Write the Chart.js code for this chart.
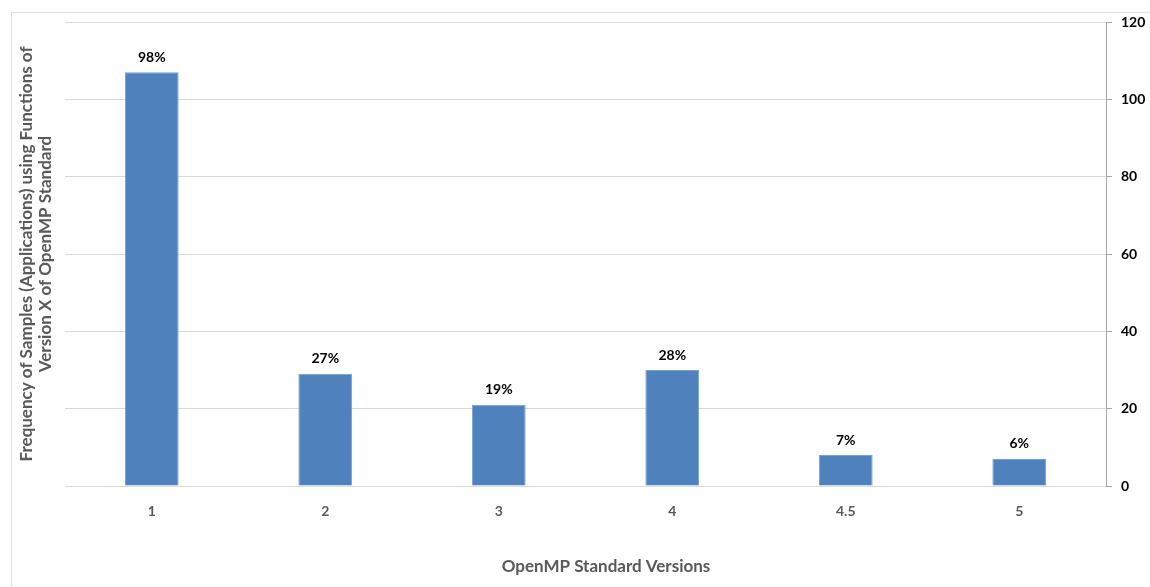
<!DOCTYPE html>
<html>
<head>
<meta charset="utf-8">
<script src="https://cdn.jsdelivr.net/npm/chart.js@4"></script>
<style>
  html, body { margin: 0; padding: 0; background: #ffffff; }
  #wrap { width: 1150px; height: 587px; position: relative; }
</style>
</head>
<body>
<div id="wrap"><canvas id="c" width="1150" height="587"></canvas></div>
<script>
const categories = ["1", "2", "3", "4", "4.5", "5"];
const frequencies = [107, 29, 21, 30, 8, 7];
const percentLabels = ["98%", "27%", "19%", "28%", "7%", "6%"];
const yTicks = [0, 20, 40, 60, 80, 100, 120];
const xTitle = "OpenMP Standard Versions";
const yTitle = ["Frequency of Samples (Applications) using Functions of", "Version X of OpenMP Standard"];

const FONT = "Lato, 'Open Sans', sans-serif";

const frame = {
  id: 'frame',
  beforeDraw(chart) {
    const ctx = chart.ctx;
    ctx.save();
    ctx.fillStyle = '#ffffff';
    ctx.fillRect(0, 0, chart.width, chart.height);
    ctx.strokeStyle = '#e3e3e3';
    ctx.lineWidth = 1;
    ctx.strokeRect(11.5, 12.5, 1300, 1000);
    ctx.restore();
  },
  afterDraw(chart) {
    const ctx = chart.ctx;
    ctx.save();
    ctx.font = "bold 17px " + FONT;
    ctx.fillStyle = '#595959';
    ctx.textAlign = 'center';
    ctx.textBaseline = 'middle';
    ctx.fillText(xTitle, 606, 567);
    ctx.restore();
  }
};

const dataLabels = {
  id: 'dataLabels',
  afterDatasetsDraw(chart) {
    const ctx = chart.ctx;
    const meta = chart.getDatasetMeta(0);
    ctx.save();
    ctx.font = "bold 14px " + FONT;
    ctx.fillStyle = '#000000';
    ctx.textAlign = 'center';
    ctx.textBaseline = 'middle';
    meta.data.forEach((bar, i) => {
      ctx.fillText(percentLabels[i], bar.x, bar.y - 15);
    });
    ctx.restore();
  }
};

new Chart(document.getElementById('c'), {
  type: 'bar',
  data: {
    labels: categories,
    datasets: [{
      data: frequencies,
      backgroundColor: '#4f81bd',
      borderColor: '#78a0cf',
      borderWidth: 1,
      barPercentage: 0.62,
      categoryPercentage: 0.5
    }]
  },
  options: {
    responsive: false,
    animation: false,
    devicePixelRatio: 1,
    layout: { padding: { top: 22, left: 17, right: 0, bottom: 0 } },
    plugins: { legend: { display: false }, tooltip: { enabled: false } },
    scales: {
      x: {
        grid: { display: false, drawTicks: false },
        border: { display: true, color: '#d9d9d9', width: 1 },
        ticks: { color: '#595959', font: { family: FONT, size: 14, weight: 'bold' }, padding: 17 },
        afterFit(s) { s.height = 101; }
      },
      y: {
        position: 'right',
        min: 0, max: 120,
        afterBuildTicks(s) { s.ticks = yTicks.map(v => ({ value: v })); },
        grid: { color: '#d9d9d9', tickColor: '#a6a6a6', tickLength: 6, drawTicks: true },
        border: { display: true, color: '#a6a6a6', width: 1 },
        ticks: { color: '#000000', font: { family: FONT, size: 14, weight: 'bold' }, padding: 9 },
        afterFit(s) { s.width = 44; }
      },
      yLeft: {
        position: 'left',
        display: true,
        min: 0, max: 120,
        grid: { display: false, drawTicks: false },
        border: { display: false },
        ticks: { display: false },
        title: { display: true, text: yTitle, color: '#595959', font: { family: FONT, size: 17, weight: 'bold', lineHeight: 1.1 }, padding: 0 },
        afterFit(s) { s.width = 48; }
      }
    }
  },
  plugins: [frame, dataLabels]
});
</script>
</body>
</html>
